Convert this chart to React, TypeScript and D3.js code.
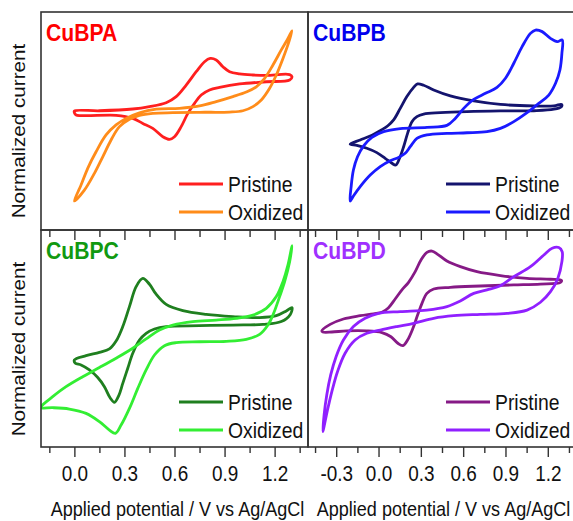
import React, { useEffect, useRef } from 'react';
import * as d3 from 'd3';

type Pt = [number, number];

// potential (V vs Ag/AgCl), normalized current (arbitrary units, 0-100 per panel)
const cubpaPristine: Pt[] = [
  [0.0, 54.6], [0.15, 54.7], [0.35, 55.5], [0.45, 56.6], [0.55, 58.4], [0.61, 61.2], [0.67, 66.5],
  [0.73, 72.6], [0.78, 77.2], [0.814, 78.7], [0.85, 78.0], [0.89, 74.9], [0.93, 72.6], [0.99, 71.6],
  [1.07, 71.1], [1.15, 70.9], [1.29, 71.3], [1.304, 70.3], [1.29, 68.8], [1.15, 68.0], [0.99, 67.0],
  [0.87, 65.4], [0.81, 64.2], [0.76, 61.9], [0.72, 58.1], [0.68, 53.5], [0.64, 47.4], [0.6, 42.8],
  [0.57, 41.6], [0.53, 42.8], [0.47, 46.6], [0.41, 48.9], [0.35, 51.2], [0.25, 52.6], [0.01, 52.8],
  [0.0, 53.8],
];
const cubpaOxidized: Pt[] = [
  [0.0, 13.3], [0.04, 20.6], [0.08, 28.3], [0.13, 35.9], [0.19, 43.6], [0.25, 48.2], [0.31, 51.2],
  [0.39, 53.8], [0.49, 55.4], [0.63, 55.8], [0.75, 56.9], [0.85, 58.9], [0.95, 61.2], [1.03, 63.3],
  [1.09, 65.7], [1.14, 69.6], [1.19, 75.7], [1.24, 82.6], [1.28, 87.9], [1.304, 91.4], [1.286, 86.4],
  [1.25, 78.7], [1.21, 71.1], [1.17, 65.0], [1.12, 59.6], [1.07, 56.6], [1.01, 54.7], [0.93, 54.1],
  [0.75, 54.0], [0.59, 53.8], [0.47, 53.5], [0.39, 52.6], [0.33, 50.8], [0.27, 47.4], [0.22, 41.3],
  [0.17, 33.6], [0.12, 26.0], [0.06, 18.3],
];
const cubpbPristine: Pt[] = [
  [-0.201, 39.4], [-0.13, 41.3], [-0.059, 43.1], [0.012, 45.6], [0.064, 47.7], [0.107, 50.5],
  [0.154, 55.8], [0.201, 61.2], [0.249, 65.4], [0.277, 67.0], [0.32, 66.4], [0.391, 64.2],
  [0.509, 61.5], [0.675, 59.2], [0.864, 57.6], [1.101, 56.9], [1.243, 56.9], [1.297, 57.6],
  [1.297, 56.6], [1.243, 55.4], [1.101, 54.7], [0.864, 54.6], [0.627, 54.3], [0.438, 53.8],
  [0.32, 53.2], [0.272, 52.0], [0.237, 49.7], [0.206, 44.3], [0.178, 38.2], [0.149, 32.9],
  [0.123, 29.8], [0.095, 30.6], [0.047, 32.9], [-0.012, 35.5], [-0.083, 37.5], [-0.154, 38.8],
];
const cubpbOxidized: Pt[] = [
  [-0.201, 13.3], [-0.194, 19.9], [-0.178, 27.5], [-0.149, 33.6], [-0.107, 38.5], [-0.047, 42.5],
  [0.036, 45.1], [0.154, 46.5], [0.343, 47.1], [0.485, 48.0], [0.544, 51.2], [0.604, 55.8],
  [0.675, 59.9], [0.758, 62.7], [0.84, 65.4], [0.9, 69.6], [0.959, 76.5], [1.018, 84.1],
  [1.077, 90.2], [1.113, 91.7], [1.16, 91.0], [1.219, 87.9], [1.267, 86.4], [1.302, 87.2],
  [1.3, 81.0], [1.286, 73.4], [1.255, 67.3], [1.207, 61.9], [1.136, 58.1], [1.053, 53.8],
  [0.959, 49.7], [0.864, 46.6], [0.769, 45.1], [0.627, 44.6], [0.485, 44.3], [0.343, 43.6],
  [0.272, 42.0], [0.225, 38.2], [0.189, 35.2], [0.142, 33.3], [0.083, 31.8], [0.012, 29.1],
  [-0.059, 25.2], [-0.13, 19.9], [-0.178, 15.6],
];
const cubpcPristine: Pt[] = [
  [0.0, 40.1], [0.07, 42.1], [0.15, 43.6], [0.21, 45.2], [0.25, 48.8], [0.29, 55.5], [0.33, 64.7],
  [0.37, 73.9], [0.41, 77.7], [0.45, 75.0], [0.49, 70.4], [0.55, 65.7], [0.65, 62.8], [0.79, 61.1],
  [0.95, 60.1], [1.11, 59.6], [1.21, 60.5], [1.27, 62.7], [1.304, 64.2], [1.294, 61.1], [1.24, 57.8],
  [1.13, 56.5], [0.95, 56.2], [0.75, 55.9], [0.55, 55.5], [0.48, 54.4], [0.43, 52.4], [0.39, 49.3],
  [0.35, 43.2], [0.32, 36.3], [0.29, 29.3], [0.266, 23.7], [0.24, 20.6], [0.214, 22.7], [0.18, 27.8],
  [0.14, 32.0], [0.09, 35.5], [0.04, 37.8], [0.006, 38.6],
];
const cubpcOxidized: Pt[] = [
  [-0.2, 18.6], [-0.13, 23.2], [-0.05, 27.8], [0.05, 32.4], [0.15, 36.6], [0.25, 40.9], [0.35, 45.5],
  [0.43, 49.8], [0.51, 53.9], [0.59, 56.2], [0.71, 57.8], [0.85, 58.5], [0.97, 59.3], [1.07, 60.8],
  [1.15, 63.9], [1.21, 69.3], [1.25, 76.2], [1.28, 83.9], [1.304, 92.8], [1.29, 85.4], [1.26, 76.2],
  [1.23, 69.3], [1.194, 61.6], [1.16, 56.2], [1.11, 51.9], [1.03, 49.6], [0.91, 48.7], [0.75, 48.5],
  [0.61, 48.1], [0.54, 46.7], [0.48, 42.4], [0.43, 35.5], [0.38, 27.0], [0.33, 17.8], [0.28, 10.1],
  [0.246, 6.3], [0.21, 7.8], [0.15, 11.7], [0.07, 15.5], [-0.03, 17.5], [-0.13, 18.1], [-0.2, 18.1],
];
const cubpdPristine: Pt[] = [
  [-0.402, 53.5], [-0.343, 56.5], [-0.249, 59.0], [-0.13, 60.5], [-0.036, 61.4], [0.024, 62.1],
  [0.071, 64.2], [0.118, 68.2], [0.166, 72.4], [0.213, 75.9], [0.26, 80.8], [0.301, 86.2],
  [0.343, 89.7], [0.379, 90.3], [0.419, 88.8], [0.485, 85.7], [0.58, 83.1], [0.698, 80.8],
  [0.864, 79.0], [1.053, 77.7], [1.219, 77.3], [1.297, 76.8], [1.29, 75.9], [1.148, 75.1],
  [0.959, 74.7], [0.722, 74.2], [0.509, 73.6], [0.391, 72.8], [0.343, 70.8], [0.308, 66.2],
  [0.277, 60.8], [0.244, 54.7], [0.206, 49.3], [0.173, 46.7], [0.137, 47.8], [0.088, 50.8],
  [0.024, 52.7], [-0.083, 53.5], [-0.225, 53.5], [-0.331, 53.0], [-0.395, 53.0],
];
const cubpdOxidized: Pt[] = [
  [-0.395, 7.1], [-0.386, 14.7], [-0.367, 24.0], [-0.339, 33.2], [-0.301, 41.6], [-0.249, 49.3],
  [-0.178, 55.5], [-0.095, 59.3], [0.0, 61.6], [0.154, 62.4], [0.343, 63.1], [0.485, 64.7],
  [0.58, 67.3], [0.675, 70.8], [0.769, 72.4], [0.864, 74.3], [0.959, 78.5], [1.077, 83.1],
  [1.172, 88.5], [1.231, 91.6], [1.278, 91.9], [1.302, 90.0], [1.3, 85.4], [1.271, 77.7],
  [1.219, 71.6], [1.148, 66.7], [1.053, 63.1], [0.911, 61.6], [0.722, 61.1], [0.533, 60.5],
  [0.391, 59.3], [0.249, 57.0], [0.13, 55.5], [0.012, 53.9], [-0.083, 52.4], [-0.166, 49.3],
  [-0.237, 43.2], [-0.291, 34.7], [-0.331, 25.5], [-0.367, 15.5],
];

const seriesNames = ['Pristine', 'Oxidized'];
const leftMajor = [0, 0.3, 0.6, 0.9, 1.2];
const leftMinor = [-0.15, 0.15, 0.45, 0.75, 1.05, 1.35];
const rightMajor = [-0.3, 0, 0.3, 0.6, 0.9, 1.2];
const rightMinor = [-0.45, -0.15, 0.15, 0.45, 0.75, 1.05, 1.35];
const xTitle = 'Applied potential / V vs Ag/AgCl';
const yTitle = 'Normalized current';

const FONT = "'Liberation Sans', Arial, Helvetica, sans-serif";
const AXIS = '#333';
const SQ = 0.88; // horizontal squeeze of the source image text

const panels = [
  { name: 'CuBPA', label: '#ff0000', x0: 41, x1: 308, y0: 12, y1: 230, dom: [-0.2, 1.4], major: leftMajor, minor: leftMinor, bottom: false, data: [cubpaPristine, cubpaOxidized], colors: ['#ff1f1f', '#ff8c1a'] },
  { name: 'CuBPB', label: '#0000ee', x0: 308, x1: 576, y0: 12, y1: 230, dom: [-0.5, 1.4], major: rightMajor, minor: rightMinor, bottom: false, data: [cubpbPristine, cubpbOxidized], colors: ['#14146e', '#1a1aff'] },
  { name: 'CuBPC', label: '#119911', x0: 41, x1: 308, y0: 230, y1: 447, dom: [-0.2, 1.4], major: leftMajor, minor: leftMinor, bottom: true, data: [cubpcPristine, cubpcOxidized], colors: ['#1f7f1f', '#33ee33'] },
  { name: 'CuBPD', label: '#a030ff', x0: 308, x1: 576, y0: 230, y1: 447, dom: [-0.5, 1.4], major: rightMajor, minor: rightMinor, bottom: true, data: [cubpdPristine, cubpdOxidized], colors: ['#861a86', '#9020ff'] },
];

export default function App() {
  const ref = useRef<SVGSVGElement>(null);

  useEffect(() => {
    const svg = d3.select(ref.current);
    svg.selectAll('*').remove();
    svg.append('rect').attr('width', 573).attr('height', 521).attr('fill', '#fff');

    panels.forEach((p, i) => {
      const x = d3.scaleLinear().domain(p.dom).range([p.x0, p.x1]);
      const y = d3.scaleLinear().domain([0, 100]).range([p.y1, p.y0]);
      const g = svg.append('g');

      // clip
      const clipId = `clip-${i}`;
      g.append('clipPath').attr('id', clipId)
        .append('rect').attr('x', p.x0).attr('y', p.y0).attr('width', p.x1 - p.x0).attr('height', p.y1 - p.y0);

      // curves
      const line = d3.line<Pt>().x((d) => x(d[0])).y((d) => y(d[1])).curve(d3.curveCatmullRomClosed.alpha(0.5));
      const plot = g.append('g').attr('clip-path', `url(#${clipId})`);
      p.data.forEach((s, k) => {
        plot.append('path').attr('d', line(s)).attr('fill', 'none')
          .attr('stroke', p.colors[k]).attr('stroke-width', 2.8).attr('stroke-linejoin', 'round');
      });

      // frame
      g.append('rect').attr('x', p.x0).attr('y', p.y0).attr('width', p.x1 - p.x0).attr('height', p.y1 - p.y0)
        .attr('fill', 'none').attr('stroke', AXIS).attr('stroke-width', 1.6);

      // panel name
      g.append('text').attr('transform', `translate(${p.x0 + 5},${p.y0 + 29}) scale(${SQ},1)`)
        .attr('font-family', FONT).attr('font-weight', 'bold').attr('font-size', 24)
        .attr('fill', p.label).text(p.name);

      // legend
      seriesNames.forEach((n, k) => {
        const ly = p.y0 + 172 + k * 28;
        g.append('line').attr('x1', p.x0 + 138).attr('x2', p.x0 + 182).attr('y1', ly).attr('y2', ly)
          .attr('stroke', p.colors[k]).attr('stroke-width', 2.8);
        g.append('text').attr('transform', `translate(${p.x0 + 187},${ly + 8}) scale(${SQ},1)`)
          .attr('font-family', FONT).attr('font-size', 22).attr('fill', '#111').text(n);
      });

      if (p.bottom) {
        // inward ticks on the top edge
        const topMajor = d3.axisBottom(x).tickValues(p.major).tickSize(10).tickFormat(() => '');
        const topMinor = d3.axisBottom(x).tickValues(p.minor).tickSize(7).tickFormat(() => '');
        [topMajor, topMinor].forEach((ax) => {
          g.append('g').attr('transform', `translate(0,${p.y0})`).call(ax)
            .call((a) => a.select('.domain').remove())
            .call((a) => a.selectAll('line').attr('stroke', AXIS).attr('stroke-width', 1.4));
        });

        // bottom axis
        const minorAx = d3.axisBottom(x).tickValues(p.minor).tickSize(6).tickFormat(() => '');
        g.append('g').attr('transform', `translate(0,${p.y1})`).call(minorAx)
          .call((a) => a.select('.domain').remove())
          .call((a) => a.selectAll('line').attr('stroke', AXIS).attr('stroke-width', 1.4));
        const majorAx = d3.axisBottom(x).tickValues(p.major).tickSize(10).tickPadding(9)
          .tickFormat((d) => (d as number).toFixed(1));
        g.append('g').attr('transform', `translate(0,${p.y1})`).call(majorAx)
          .call((a) => a.select('.domain').remove())
          .call((a) => a.selectAll('line').attr('stroke', AXIS).attr('stroke-width', 1.4))
          .call((a) => a.selectAll('text').attr('font-family', FONT).attr('font-size', 21.5)
            .attr('fill', '#111').attr('transform', `scale(${SQ},1)`));

        // x title
        const cx = (p.x0 + Math.min(p.x1, 573)) / 2 + 3;
        g.append('text').attr('transform', `translate(${cx},516) scale(${SQ},1)`)
          .attr('text-anchor', 'middle').attr('font-family', FONT).attr('font-size', 20.5)
          .attr('fill', '#111').text(xTitle);
      }

      // y title (left column only)
      if (p.x0 < 100) {
        g.append('text').attr('transform', `translate(25,${p.y0 + 119}) rotate(-90) scale(1,${SQ})`)
          .attr('text-anchor', 'middle').attr('font-family', FONT).attr('font-size', 20.7)
          .attr('fill', '#111').text(yTitle);
      }
    });
  }, []);

  return (
    <svg ref={ref} width={573} height={521} style={{ position: 'absolute', left: 0, top: 0 }} />
  );
}
